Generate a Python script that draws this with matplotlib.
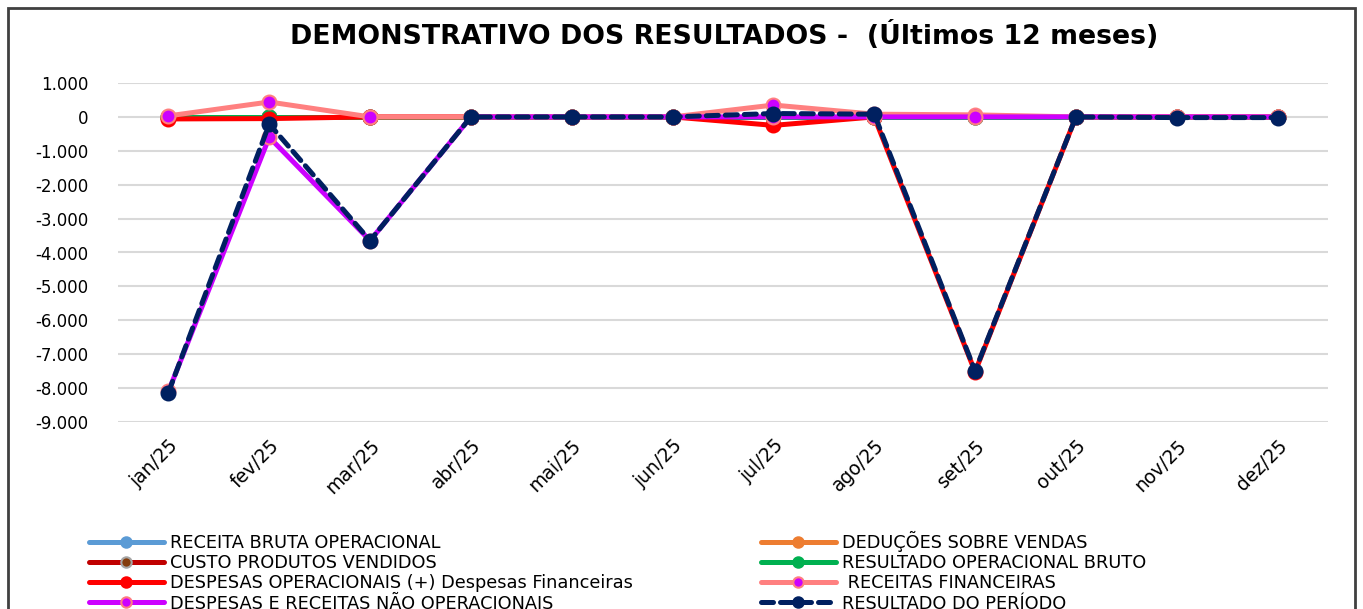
import matplotlib.pyplot as plt
from matplotlib.patches import Rectangle
from matplotlib.ticker import FuncFormatter

meses = ["jan/25", "fev/25", "mar/25", "abr/25", "mai/25", "jun/25",
         "jul/25", "ago/25", "set/25", "out/25", "nov/25", "dez/25"]

receita_bruta = [0, 0, 0, 0, 0, 0, 0, 0, 0, 0, 0, 0]
deducoes = [0, 0, 0, 0, 0, 0, 0, 0, 0, 0, 0, 0]
custo = [0, 0, 0, 0, 0, 0, 0, 0, 0, 0, 0, 0]
resultado_bruto = [0, 0, 0, 0, 0, 0, 0, 0, 0, 0, 0, 0]
despesas_op = [-60, -50, 0, 0, 0, 0, -250, 0, -7520, 0, 0, 0]
receitas_fin = [30, 440, 0, 0, 0, 0, 350, 80, 60, 0, 0, 0]
nao_operacionais = [-8100, -600, -3650, 0, 0, 0, 0, 0, 0, 0, 0, 0]
resultado = [-8130, -210, -3650, 0, 0, 0, 100, 80, -7490, 0, -20, -20]

fig = plt.figure(figsize=(13.63, 6.09), dpi=100)
ax = fig.add_axes([118/1363, 1 - 422/609, (1328-118)/1363, (422-83)/609])

x = range(len(meses))
lw = 3.6
ms = 10

series = [
    (receita_bruta, "RECEITA BRUTA OPERACIONAL", dict(color="#5B9BD5", mfc="#5B9BD5", mec="#5B9BD5")),
    (deducoes, "DEDUÇÕES SOBRE VENDAS", dict(color="#ED7D31", mfc="#ED7D31", mec="#ED7D31")),
    (custo, "CUSTO PRODUTOS VENDIDOS", dict(color="#C00000", mfc="#843C0C", mec="#A5A5A5")),
    (resultado_bruto, "RESULTADO OPERACIONAL BRUTO", dict(color="#00B050", mfc="#00B050", mec="#00B050")),
    (despesas_op, "DESPESAS OPERACIONAIS (+) Despesas Financeiras", dict(color="#FF0000", mfc="#FF0000", mec="#FF0000")),
    (receitas_fin, " RECEITAS FINANCEIRAS", dict(color="#FF8080", mfc="#CC00FF", mec="#FF8080")),
    (nao_operacionais, "DESPESAS E RECEITAS NÃO OPERACIONAIS", dict(color="#CC00FF", mfc="#CC00FF", mec="#FF7C80")),
    (resultado, "RESULTADO DO PERÍODO", dict(color="#002060", mfc="#002060", mec="#002060", ls=(0, (2.4, 1.4)))),
]

handles = []
for i, (vals, nome, st) in enumerate(series):
    ls = st.pop("ls", "-")
    h, = ax.plot(x, vals, ls=ls, lw=lw, marker="o", ms=ms, mew=1.5,
                 label=nome, zorder=3 + i, solid_capstyle="round",
                 dash_capstyle="round", **st)
    handles.append(h)

ax.set_ylim(-9000, 1000)
ax.set_yticks(range(-9000, 1001, 1000))
ax.yaxis.set_major_formatter(FuncFormatter(lambda v, p: f"{int(v):,}".replace(",", ".")))
ax.set_xlim(-0.5, 11.5)
ax.set_xticks(list(x))
ax.set_xticklabels(meses, rotation=45, ha="right", rotation_mode="anchor", fontsize=13.5)
ax.tick_params(axis="y", labelsize=12, length=0, pad=21)
ax.tick_params(axis="x", length=0, pad=10)
ax.grid(axis="y", color="#D9D9D9", lw=1.5)
ax.set_axisbelow(True)
for s in ax.spines.values():
    s.set_visible(False)

fig.text(724/1363, 1 - 36/609, "DEMONSTRATIVO DOS RESULTADOS -  (Últimos 12 meses)",
         ha="center", va="center", fontsize=19.3, fontweight="bold")

ordem = [0, 2, 4, 6, 1, 3, 5, 7]
leg = fig.legend([handles[k] for k in ordem], [handles[k].get_label() for k in ordem],
                 ncol=2, loc="upper left", bbox_to_anchor=(82/1363, 1 - 524/609),
                 frameon=False, fontsize=12.8, handlelength=4.2, columnspacing=7.2,
                 labelspacing=0.12, handletextpad=0.35, borderaxespad=0,
                 markerscale=0.75)

fig.patches.append(Rectangle((8/1363, -0.1), (1355-8)/1363, 1.1 - 8/609,
                             transform=fig.transFigure, fill=False,
                             ec="#404040", lw=2))

fig.savefig("out.png", dpi=100)
